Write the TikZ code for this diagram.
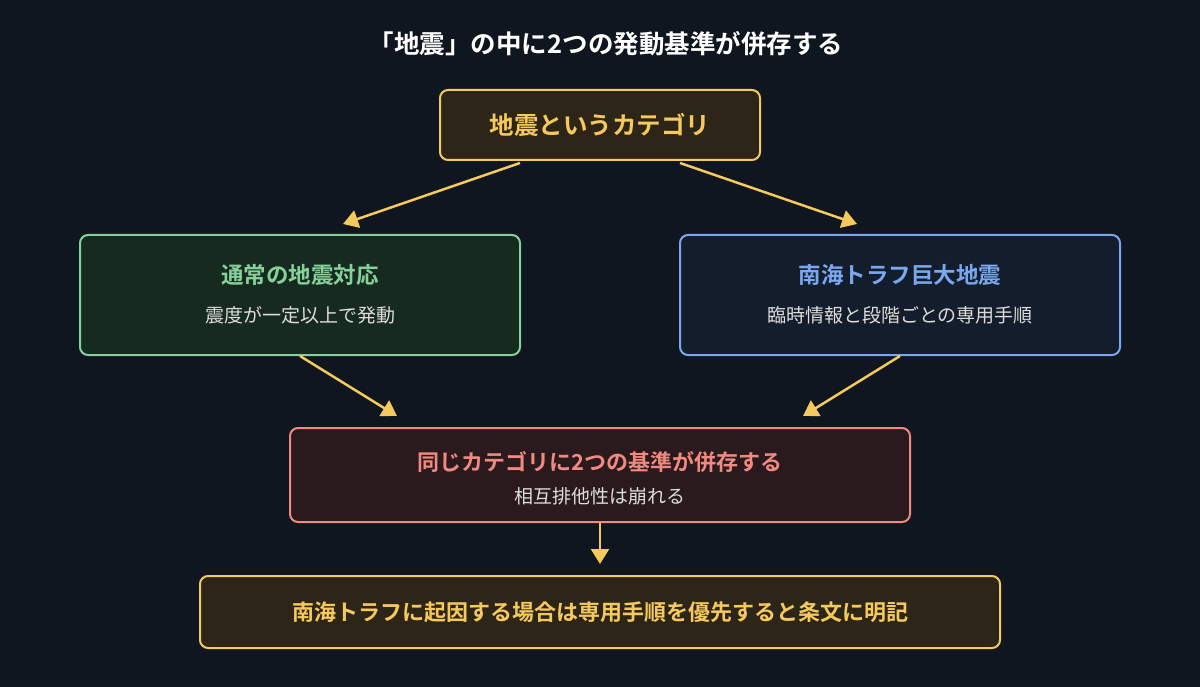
\documentclass[tikz,border=0pt]{standalone}
\usepackage{fontspec}
\setmainfont{Noto Sans CJK JP}[BoldFont={Noto Sans CJK JP Bold}]
\usetikzlibrary{calc,arrows.meta}
\definecolor{bgc}{HTML}{0F1620}
\definecolor{ylw}{HTML}{F5C95C}
\definecolor{ylwf}{HTML}{2D2618}
\definecolor{grn}{HTML}{86D19A}
\definecolor{grnf}{HTML}{172A20}
\definecolor{blu}{HTML}{79A8F0}
\definecolor{bluf}{HTML}{141D2B}
\definecolor{redc}{HTML}{F08A80}
\definecolor{redf}{HTML}{2A1A1E}
\definecolor{subc}{HTML}{DDDDDD}
\tikzset{
  box/.style={draw, line width=2pt, rounded corners=8pt, inner sep=0pt},
  ttl/.style={font=\bfseries\fontsize{22.5}{26}\selectfont},
  sub/.style={font=\fontsize{19}{22}\selectfont, text=subc},
  arr/.style={draw=ylw, line width=2.5pt, -{Triangle[length=15pt,width=18pt]}}
}
\begin{document}
\begin{tikzpicture}[x=1pt,y=-1pt]
  \fill[bgc] (0,0) rectangle (1200,687);
  \useasboundingbox (0,0) rectangle (1200,687);
  \node[font=\bfseries\fontsize{25.5}{30}\selectfont, text=white] (title) at (606,44) {「地震」の中に2つの発動基準が併存する};

  \node[box, draw=ylw, fill=ylwf, minimum width=320pt, minimum height=70pt] (cat) at (600,125) {};
  \node[ttl, font=\bfseries\fontsize{24.5}{28}\selectfont, text=ylw] at (cat) {地震というカテゴリ};

  \node[box, draw=grn, fill=grnf, minimum width=440pt, minimum height=120pt] (norm) at (300,295) {};
  \node[ttl, text=grn] at (300,275) {通常の地震対応};
  \node[sub] at (300,315) {震度が一定以上で発動};

  \node[box, draw=blu, fill=bluf, minimum width=440pt, minimum height=120pt] (nankai) at (900,295) {};
  \node[ttl, text=blu] at (900,275) {南海トラフ巨大地震};
  \node[sub] at (900,315) {臨時情報と段階ごとの専用手順};

  \node[box, draw=redc, fill=redf, minimum width=620pt, minimum height=94pt] (both) at (600,475) {};
  \node[ttl, font=\bfseries\fontsize{22}{26}\selectfont, text=redc] at (600,462) {同じカテゴリに2つの基準が併存する};
  \node[sub] at (600,496) {相互排他性は崩れる};

  \node[box, draw=ylw, fill=ylwf, minimum width=800pt, minimum height=72pt] (rule) at (600,612) {};
  \node[ttl, font=\bfseries\fontsize{22}{26}\selectfont, text=ylw] at (rule) {南海トラフに起因する場合は専用手順を優先すると条文に明記};

  \draw[arr] ($(cat.south)+(-80,2)$) -- ($(norm.north)+(43,-10)$);
  \draw[arr] ($(cat.south)+(80,2)$) -- ($(nankai.north)+(-43,-10)$);
  \draw[arr] (norm.south) -- ($(both.north)+(-203,-11)$);
  \draw[arr] (nankai.south) -- ($(both.north)+(203,-11)$);
  \draw[arr] (both.south) -- ($(rule.north)+(0,-11)$);
\end{tikzpicture}
\end{document}
